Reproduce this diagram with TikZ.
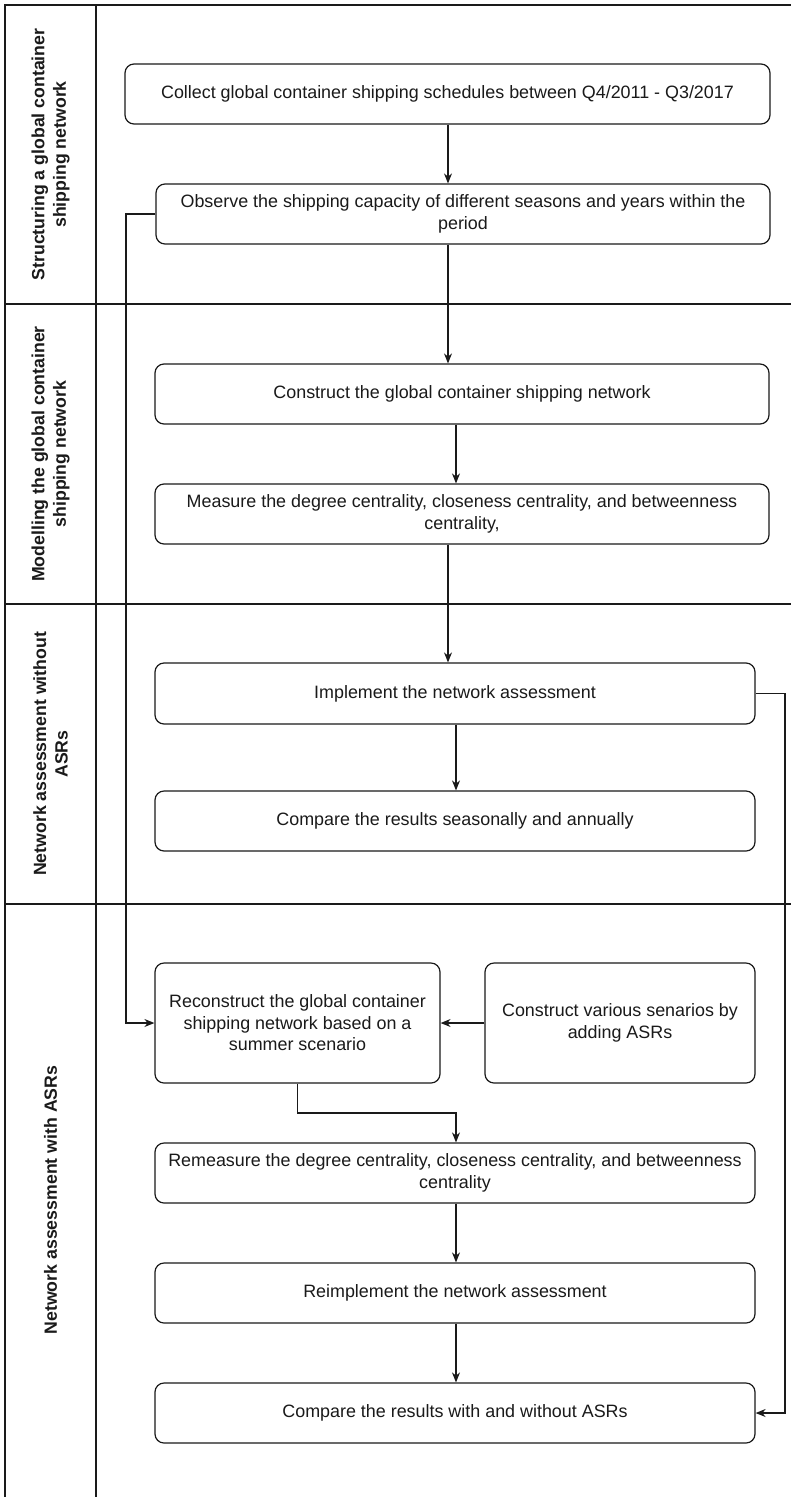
\documentclass[tikz,border=0pt]{standalone}
\usepackage{fontspec}
\setmainfont{Liberation Sans}
\usetikzlibrary{arrows.meta}
\definecolor{ink}{HTML}{1A1A1A}
\begin{document}
\begin{tikzpicture}[x=1pt,y=-1pt,
  box/.style={draw=ink, text=ink, rounded corners=9pt, line width=1.2pt, inner sep=0pt, align=center,
    font=\fontsize{17.9}{21.5}\selectfont},
  lanerule/.style={draw=ink, line width=1.3pt},
  lanetitle/.style={rotate=90, align=center, text=ink, inner sep=0pt,
    font=\bfseries\fontsize{17.7}{21.5}\selectfont},
  arr/.style={draw=ink, line width=1.2pt, -{Stealth[length=10pt,width=8pt]}},
  conn/.style={draw=ink, line width=1.2pt}
]
\useasboundingbox (0,0) rectangle (791,1497);
\fill[white] (0,0) rectangle (791,1497);

% frame and lanes
\draw[lanerule] (5,1497) -- (5,5) -- (791,5);
\draw[lanerule] (96,5) -- (96,1497);
\draw[lanerule] (5,304) -- (791,304);
\draw[lanerule] (5,604) -- (791,604);
\draw[lanerule] (5,904) -- (791,904);

% lane titles
\node[lanetitle] (t1) at (50.5,154.5) {Structuring a global container\\shipping network};
\node[lanetitle] (t2) at (50.5,454) {Modelling the global container\\shipping network};
\node[lanetitle] (t3) at (50.5,754) {Network assessment without\\ASRs};
\node[lanetitle] (t4) at (50.5,1200) {Network assessment with ASRs};

% boxes
\node[box, minimum width=645pt, minimum height=60pt] (collect) at (447.5,94)
  {Collect global container shipping schedules between Q4/2011 - Q3/2017};
\node[box, minimum width=614pt, minimum height=60pt] (observe) at (463,214)
  {Observe the shipping capacity of different seasons and years within the\\period};
\node[box, minimum width=614pt, minimum height=60pt] (construct) at (462,394)
  {Construct the global container shipping network};
\node[box, minimum width=614pt, minimum height=60pt] (measure) at (462,514)
  {Measure the degree centrality, closeness centrality, and betweenness\\centrality,};
\node[box, minimum width=600pt, minimum height=61pt] (implement) at (455,693.5)
  {Implement the network assessment};
\node[box, minimum width=600pt, minimum height=60pt] (compareA) at (455,821)
  {Compare the results seasonally and annually};
\node[box, minimum width=285pt, minimum height=120pt] (reconstruct) at (297.5,1023)
  {Reconstruct the global container\\shipping network based on a\\summer scenario};
\node[box, minimum width=270pt, minimum height=120pt] (various) at (620,1023)
  {Construct various senarios by\\adding ASRs};
\node[box, minimum width=600pt, minimum height=60pt] (remeasure) at (455,1173)
  {Remeasure the degree centrality, closeness centrality, and betweenness\\centrality};
\node[box, minimum width=600pt, minimum height=60pt] (reimplement) at (455,1293)
  {Reimplement the network assessment};
\node[box, minimum width=600pt, minimum height=60pt] (compareB) at (455,1413)
  {Compare the results with and without ASRs};

% helper coordinates
\coordinate (ax1) at (448,0);
\coordinate (ax2) at (456,0);
\coordinate (lx) at (126,0);
\coordinate (rx) at (785,0);
\coordinate (bend) at (456,1113);

% connectors
\draw[arr] (ax1 |- collect.south) -- (ax1 |- observe.north);
\draw[arr] (ax1 |- observe.south) -- (ax1 |- construct.north);
\draw[arr] (ax2 |- construct.south) -- (ax2 |- measure.north);
\draw[arr] (ax1 |- measure.south) -- (ax1 |- implement.north);
\draw[arr] (ax2 |- implement.south) -- (ax2 |- compareA.north);
\draw[arr] (observe.west) -- (lx |- observe.west) -- (lx |- reconstruct.west) -- (reconstruct.west);
\draw[arr] (various.west) -- (reconstruct.east);
\draw[arr] (reconstruct.south) |- (bend) -- (ax2 |- remeasure.north);
\draw[arr] (ax2 |- remeasure.south) -- (ax2 |- reimplement.north);
\draw[arr] (ax2 |- reimplement.south) -- (ax2 |- compareB.north);
\draw[arr] (implement.east) -- (rx |- implement.east) -- (rx |- compareB.east) -- (compareB.east);
\end{tikzpicture}
\end{document}
